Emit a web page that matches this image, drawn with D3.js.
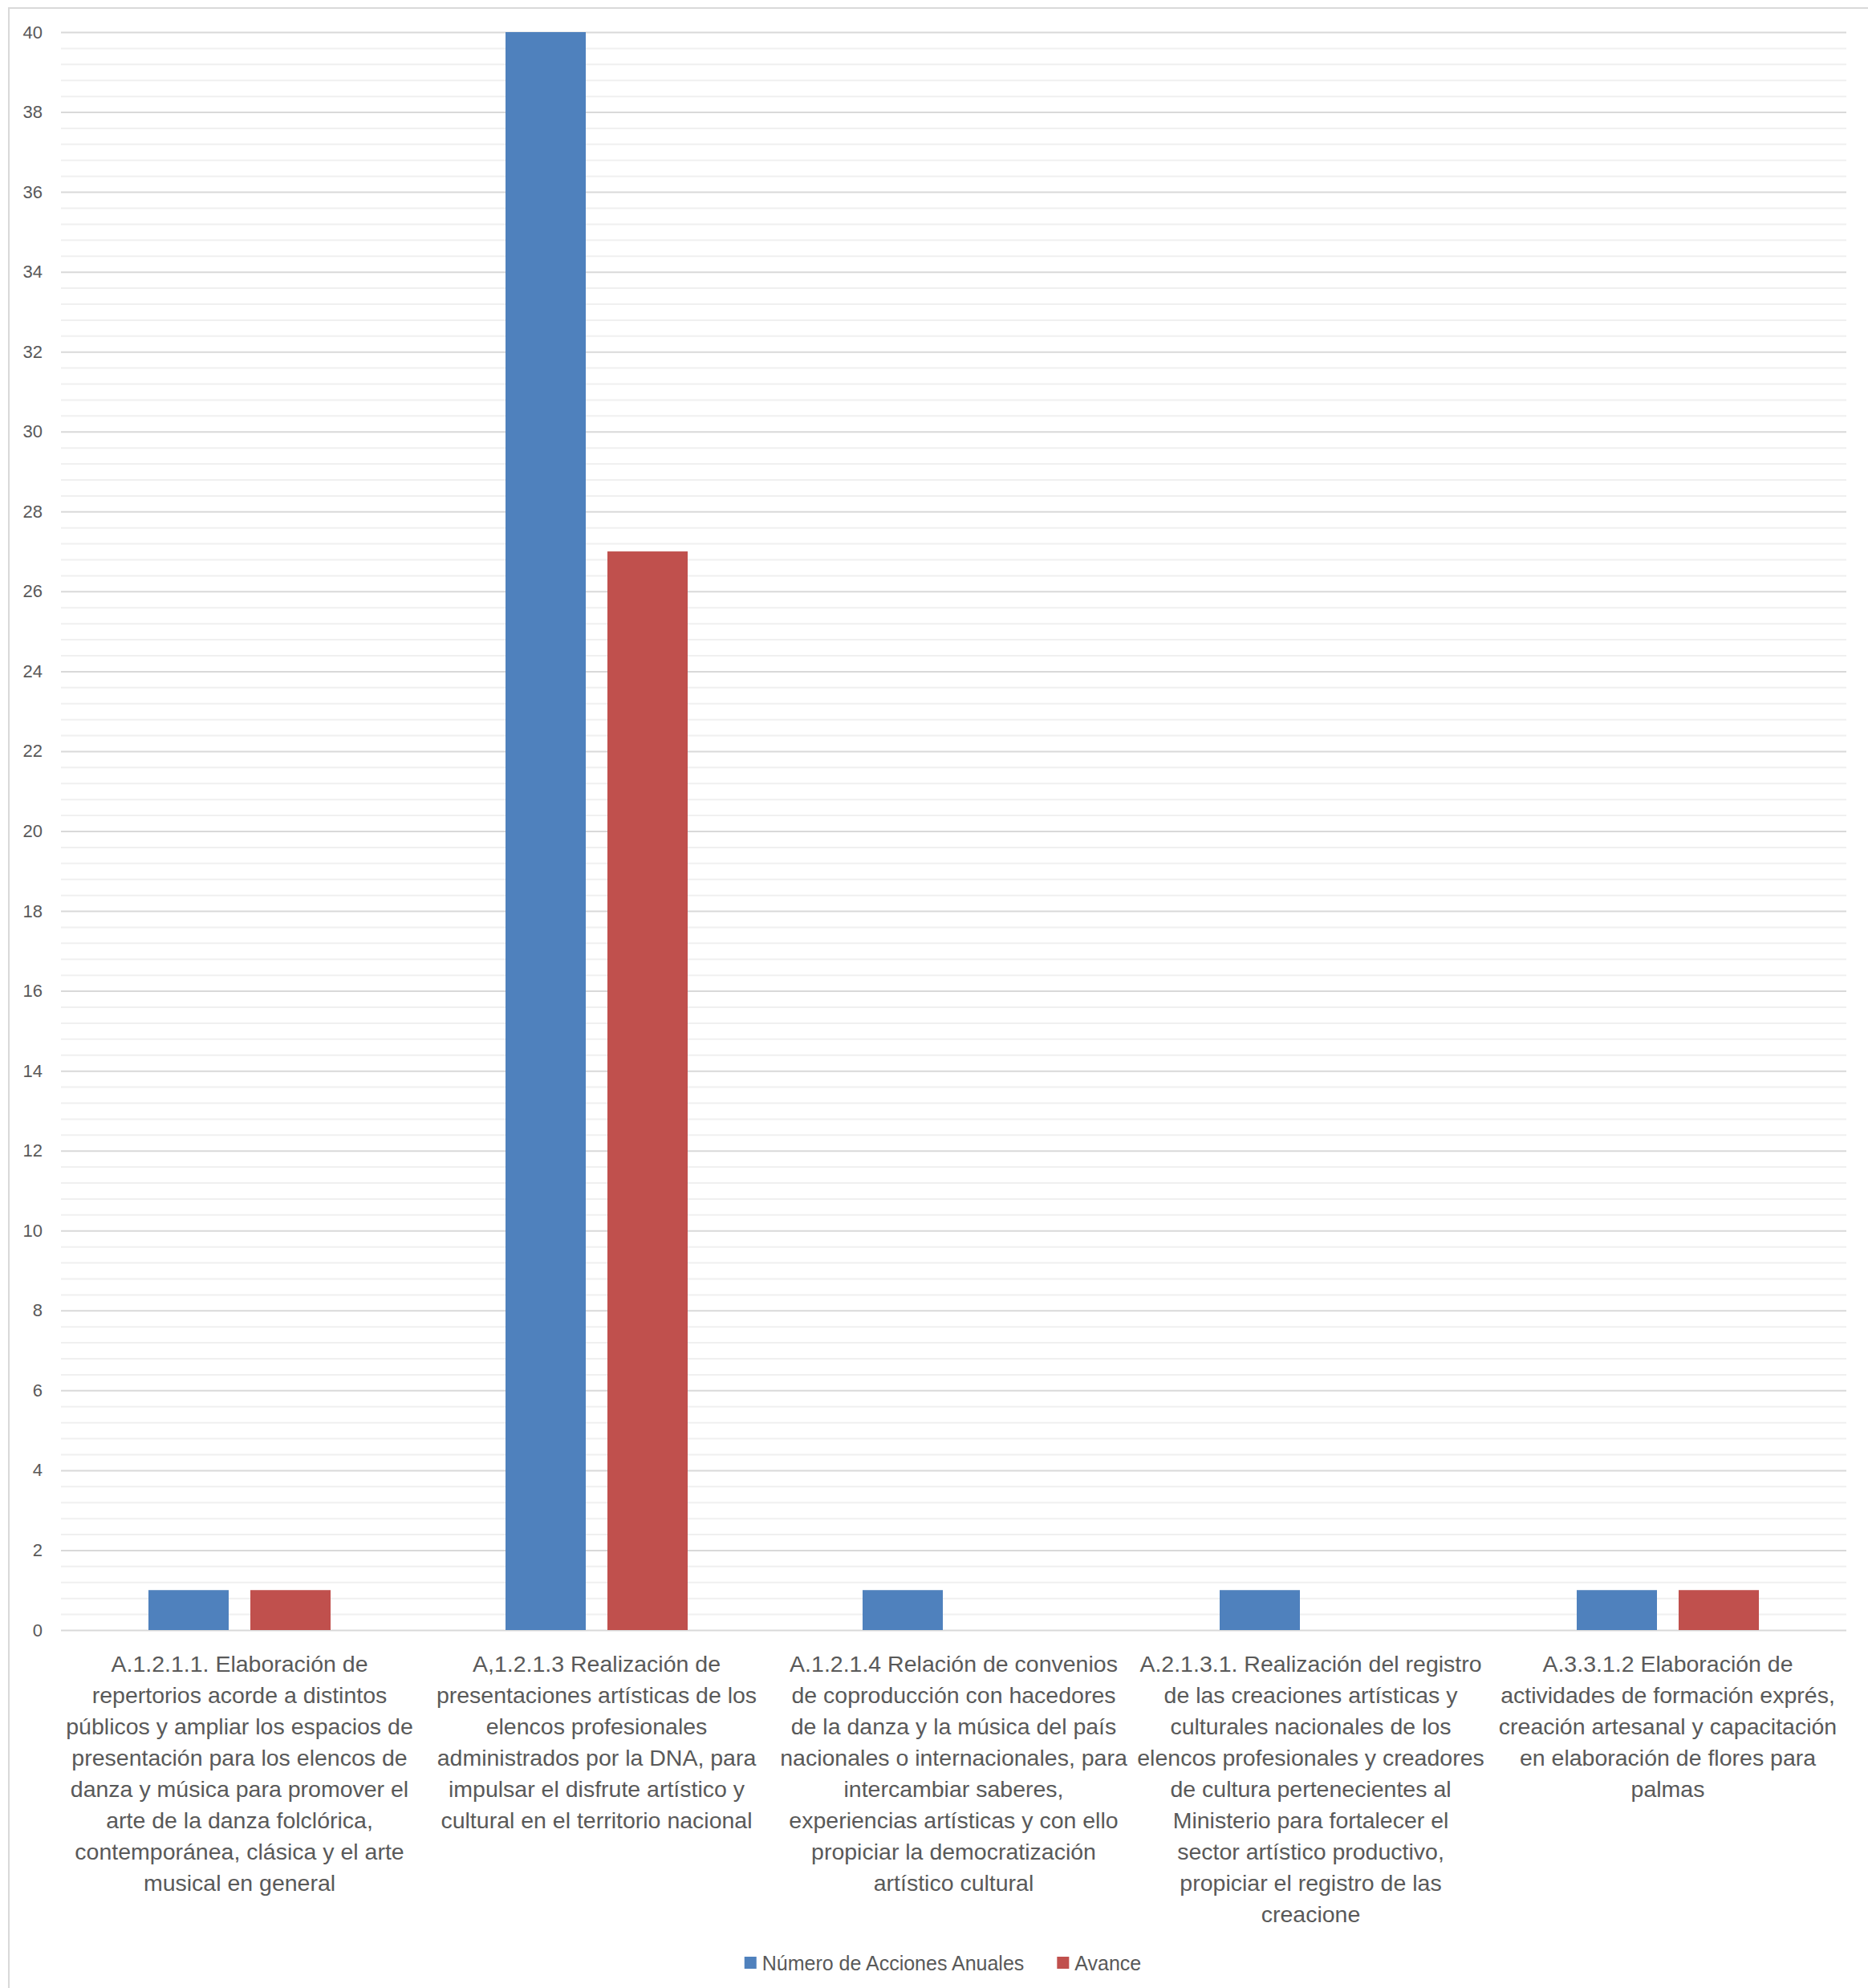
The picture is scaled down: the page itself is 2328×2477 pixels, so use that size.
<!DOCTYPE html>
<html>
<head>
<meta charset="utf-8">
<script src="https://cdn.jsdelivr.net/npm/d3@7"></script>
<style>
  body { margin: 0; background: #fff; }
  text { font-family: 'Liberation Sans', Arial, sans-serif; fill: #595959; }
</style>
</head>
<body>
<div id="chart"></div>
<script>
// categories, each wrapped as in the original
const categories = ['A.1.2.1.1', 'A,1.2.1.3', 'A.1.2.1.4', 'A.2.1.3.1', 'A.3.3.1.2']
const categoryLines = [
  ['A.1.2.1.1. Elaboración de', 'repertorios acorde a distintos', 'públicos y ampliar los espacios de',
   'presentación para los elencos de', 'danza y música para promover el', 'arte de la danza folclórica,',
   'contemporánea, clásica y el arte', 'musical en general'],
  ['A,1.2.1.3 Realización de', 'presentaciones artísticas de los', 'elencos profesionales',
   'administrados por la DNA, para', 'impulsar el disfrute artístico y', 'cultural en el territorio nacional'],
  ['A.1.2.1.4 Relación de convenios', 'de coproducción con hacedores', 'de la danza y la música del país',
   'nacionales o internacionales, para', 'intercambiar saberes,', 'experiencias artísticas y con ello',
   'propiciar la democratización', 'artístico cultural'],
  ['A.2.1.3.1. Realización del registro', 'de las creaciones artísticas y', 'culturales nacionales de los',
   'elencos profesionales y creadores', 'de cultura pertenecientes al', 'Ministerio para fortalecer el',
   'sector artístico productivo,', 'propiciar el registro de las', 'creacione'],
  ['A.3.3.1.2 Elaboración de', 'actividades de formación exprés,', 'creación artesanal y capacitación',
   'en elaboración de flores para', 'palmas']
]
const accionesAnuales = [1, 40, 1, 1, 1]
const avance = [1, 27, 0, 0, 1]
const seriesNames = ['Número de Acciones Anuales', 'Avance']
const yTicks = d3.range(0, 41, 2)

const W = 2328
const H = 2477
const margin = { TOP: 40, RIGHT: 27, BOTTOM: 446, LEFT: 76 }
const colors = d3.scaleOrdinal().domain(seriesNames).range(['#4f81bd', '#c0504d'])

const svg = d3.select('#chart').append('svg')
  .attr('width', W).attr('height', H)
  .attr('viewBox', `0 0 ${W} ${H}`)

svg.append('rect').attr('width', W).attr('height', H).attr('fill', '#fff')
// chart area border (cropped on the right and bottom)
svg.append('rect')
  .attr('x', 11).attr('y', 10).attr('width', W + 20).attr('height', H + 20)
  .attr('fill', 'none').attr('stroke', '#d9d9d9').attr('stroke-width', 2)

const x0 = d3.scaleBand().domain(categories).range([margin.LEFT, W - margin.RIGHT])
const x1 = d3.scaleBand().domain(seriesNames).range([0, 227]).paddingInner(0.27 / 1.27)
const y = d3.scaleLinear().domain([0, 40]).range([H - margin.BOTTOM, margin.TOP])

// minor gridlines
svg.append('g')
  .attr('transform', `translate(${margin.LEFT}, 0)`)
  .call(d3.axisLeft(y).tickValues(d3.range(0, 40.01, 0.4).filter((d, i) => i % 5 !== 0))
    .tickSize(-(W - margin.RIGHT - margin.LEFT)).tickFormat(''))
  .call(g => g.select('.domain').remove())
  .call(g => g.selectAll('line').attr('stroke', '#f0f0f0').attr('stroke-width', 2))

// major gridlines + labels
svg.append('g')
  .attr('transform', `translate(${margin.LEFT}, 0)`)
  .call(d3.axisLeft(y).tickValues(yTicks).tickSize(-(W - margin.RIGHT - margin.LEFT)).tickPadding(23))
  .call(g => g.select('.domain').remove())
  .call(g => g.selectAll('line').attr('stroke', '#d9d9d9').attr('stroke-width', 2))
  .call(g => g.selectAll('text').attr('font-size', 22).attr('fill', '#595959')
    .style('font-family', "'Liberation Sans', Arial, sans-serif"))

const rows = categories.map((c, i) => ({
  cat: c,
  values: [
    { key: seriesNames[0], value: accionesAnuales[i] },
    { key: seriesNames[1], value: avance[i] }
  ]
}))

svg.append('g')
  .selectAll('g')
  .data(rows)
  .join('g')
  .attr('transform', d => `translate(${x0(d.cat) + (x0.bandwidth() - 227) / 2}, 0)`)
  .selectAll('rect')
  .data(d => d.values.filter(v => v.value > 0))
  .join('rect')
  .attr('x', d => x1(d.key))
  .attr('width', x1.bandwidth())
  .attr('y', d => y(d.value))
  .attr('height', d => y(0) - y(d.value))
  .attr('fill', d => colors(d.key))

// category labels
const labels = svg.append('g')
  .selectAll('text')
  .data(categories)
  .join('text')
  .attr('text-anchor', 'middle')
  .attr('font-size', 28.5)
  .attr('transform', d => `translate(${x0(d) + x0.bandwidth() / 2}, ${y(0) + 42})`)

labels.selectAll('tspan')
  .data((d, i) => categoryLines[i])
  .join('tspan')
  .attr('x', 0)
  .attr('y', (d, i) => i * 39)
  .attr('dy', '0.35em')
  .text(d => d)

// legend
const legend = svg.append('g').attr('transform', `translate(0, 2446)`)
const items = legend.selectAll('g').data(seriesNames).join('g')
items.append('rect')
  .attr('y', -8).attr('width', 15).attr('height', 15)
  .attr('fill', d => colors(d))
items.append('text')
  .attr('x', 22).attr('dy', '0.35em').attr('font-size', 25)
  .text(d => d)

let offset = 0
const widths = []
items.each(function () {
  const w = 22 + this.querySelector('text').getComputedTextLength()
  widths.push(w)
})
const totalW = d3.sum(widths) + 41 * (widths.length - 1)
offset = 1175 - totalW / 2
items.attr('transform', (d, i) => {
  const t = `translate(${offset}, 0)`
  offset += widths[i] + 41
  return t
})
</script>
</body>
</html>
